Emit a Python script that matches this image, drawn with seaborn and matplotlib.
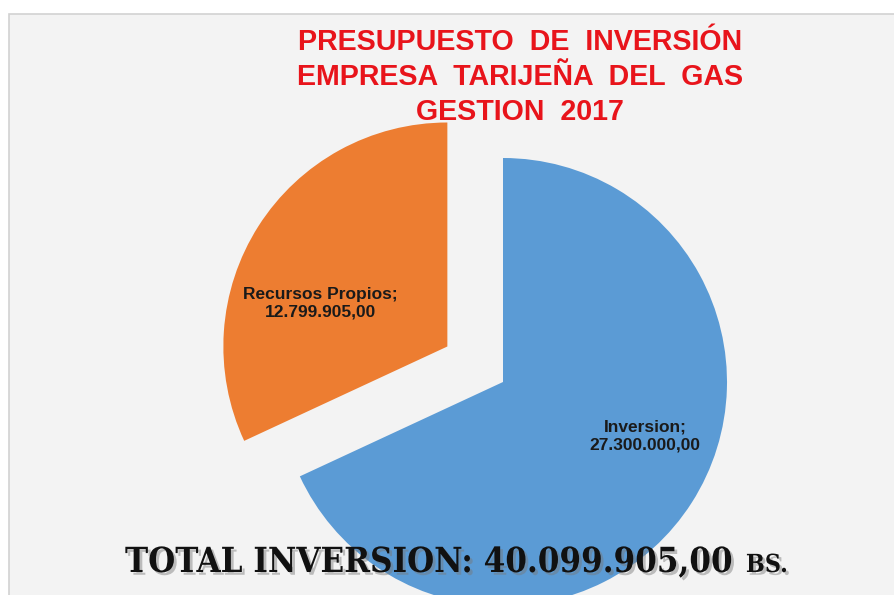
import matplotlib
matplotlib.use("Agg")
import matplotlib.pyplot as plt
import matplotlib.patheffects as pe
from matplotlib.patches import Rectangle
import seaborn as sns

# ---- data ----
categories = ["Inversion", "Recursos Propios"]
values = [27300000.00, 12799905.00]
value_labels = ["27.300.000,00", "12.799.905,00"]
colors = ["#5B9BD5", "#ED7D31"]
title_lines = ["PRESUPUESTO  DE  INVERSIÓN", "EMPRESA  TARIJEÑA  DEL  GAS", "GESTION  2017"]
total_label = "TOTAL INVERSION: 40.099.905,00"
total_unit = "BS."

# ---- style ----
sns.set_theme(style="white")
plt.rcParams['font.family'] = ['Liberation Sans', 'DejaVu Sans']

W, H = 894, 595
fig = plt.figure(figsize=(W / 100, H / 100), dpi=100)
fig.patch.set_facecolor('white')
ax = fig.add_axes([0, 0, 1, 1])

# background panel
ax.add_patch(Rectangle((8.5, -5), W, H - 13.5 + 5, facecolor='#f3f3f3',
                       edgecolor='#d2d2d2', lw=1.2, zorder=0))

wedges, _ = ax.pie(values, colors=colors, startangle=90, counterclock=False,
                   center=(503, H - 382), radius=224, explode=[0, 66],
                   wedgeprops=dict(linewidth=0), frame=True)
for w in wedges:
    w.set_zorder(2)

ax.set_xlim(0, W)
ax.set_ylim(0, H)
ax.set_aspect('auto')
ax.axis('off')

# slice labels
label_pos = [(645, H - 436), (320, H - 303)]
for cat, vl, (x, y) in zip(categories, value_labels, label_pos):
    ax.text(x, y, f"{cat};\n{vl}", ha='center', va='center', fontsize=12.5,
            fontweight='bold', color='#1a1a1a', linespacing=1.2, zorder=3)

# title
ax.text(520, H - 77, "\n".join(title_lines), ha='center', va='center',
        fontsize=20.6, fontweight='bold', color='#E8141B', linespacing=1.3,
        zorder=3)

# total text
shadow = [pe.withSimplePatchShadow(offset=(2, -2), shadow_rgbFace='#777777', alpha=0.45)]
t = ax.text(125, H - 572, total_label, ha='left', va='baseline',
            fontfamily='DejaVu Serif', fontstretch='condensed', fontweight='bold',
            fontsize=34, color='#111111', zorder=4, path_effects=shadow)
fig.canvas.draw()
r = fig.canvas.get_renderer()
bb = t.get_window_extent(r)
target = 608.0
t.set_fontsize(34 * target / bb.width)
fig.canvas.draw()
bb = t.get_window_extent(r)
ax.text(bb.x1 + 12, H - 572, total_unit, ha='left', va='baseline',
        fontfamily='DejaVu Serif', fontstretch='condensed', fontweight='bold',
        fontsize=t.get_fontsize() * 0.72, color='#111111', zorder=4,
        path_effects=shadow)

fig.savefig("out.png", dpi=100, facecolor='white')
